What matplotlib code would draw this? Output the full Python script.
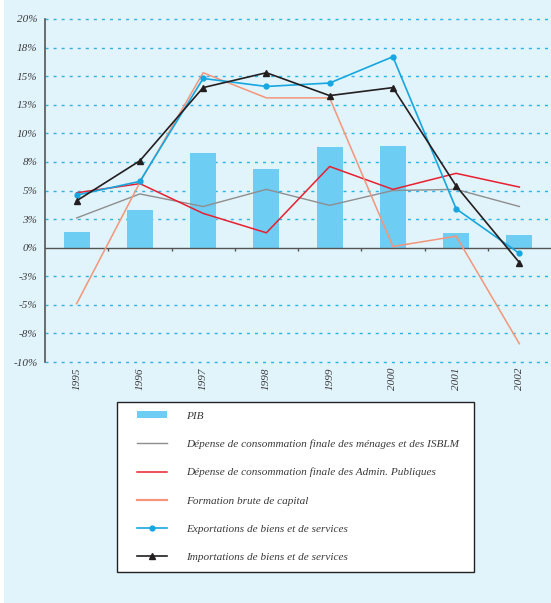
import numpy as np
import matplotlib
matplotlib.use('Agg')
import matplotlib.pyplot as plt
from matplotlib.patches import Rectangle, Patch
from matplotlib.lines import Line2D

matplotlib.rcParams.update({'font.family': 'Liberation Serif', 'font.style': 'italic', 'font.size': 8})

years = ['1995', '1996', '1997', '1998', '1999', '2000', '2001', '2002']
pib = [1.4, 3.3, 8.3, 6.9, 8.8, 8.9, 1.3, 1.1]
menages = [2.6, 4.7, 3.6, 5.1, 3.7, 5.0, 5.1, 3.6]
admin = [4.8, 5.6, 3.0, 1.3, 7.1, 5.1, 6.5, 5.3]
fbcf = [-4.9, 5.7, 15.3, 13.1, 13.1, 0.1, 1.0, -8.4]
exports = [4.6, 5.8, 14.8, 14.1, 14.4, 16.7, 3.4, -0.5]
imports = [4.1, 7.6, 14.0, 15.3, 13.3, 14.0, 5.4, -1.3]
yticks = [20, 17.5, 15, 12.5, 10, 7.5, 5, 2.5, 0, -2.5, -5, -7.5, -10]

labels = ['PIB',
          'Dépense de consommation finale des ménages et des ISBLM',
          'Dépense de consommation finale des Admin. Publiques',
          'Formation brute de capital',
          'Exportations de biens et de services',
          'Importations de biens et de services']

bg = '#E1F3FB'
c_bar = '#6DCDF3'
c_grey = '#8E8E8E'
c_red = '#E8202F'
c_salmon = '#F4967A'
c_blue = '#16A6E0'
c_black = '#231F20'
c_grid = '#2DB3E8'
c_axis = '#555555'
c_text = '#3A3A3A'

fig = plt.figure(figsize=(5.51, 6.03), dpi=100, facecolor=bg)
fig.patches.append(Rectangle((0, 0), 4 / 551, 1, transform=fig.transFigure,
                             facecolor='white', edgecolor='none', zorder=-5))

ax = fig.add_axes([45 / 551, 1 - 362 / 603, 1 - 45 / 551, (362 - 19) / 603])
ax.set_facecolor('none')
x = np.arange(len(years))

# dotted grid
for v in yticks:
    if v != 0:
        ax.axhline(v, color=c_grid, lw=1.0, dashes=(2.2, 3.6), zorder=0, clip_on=False)

ax.bar(x, pib, width=0.41, color=c_bar, zorder=1)

ax.axhline(0, color=c_axis, lw=1.0, zorder=2)
bounds = x[:-1] + 0.5
ax.vlines(bounds, -0.3, 0, color=c_axis, lw=1.0, zorder=2)

ax.plot(x, menages, color=c_grey, lw=1.0, zorder=3)
ax.plot(x, admin, color=c_red, lw=1.1, zorder=3)
ax.plot(x, fbcf, color=c_salmon, lw=1.1, zorder=3)
ax.plot(x, exports, color=c_blue, lw=1.2, marker='o', ms=3.5, zorder=4)
ax.plot(x, imports, color=c_black, lw=1.2, marker='^', ms=5, zorder=5)

ax.set_xlim(-0.5, len(years) - 0.5)
ax.set_ylim(-10, 20)
ax.set_yticks(yticks)
ax.set_yticklabels([f'{int(np.sign(v) * np.floor(abs(v) + 0.5))}%' for v in yticks],
                   color=c_text, fontsize=8)
ax.set_xticks(x)
ax.set_xticklabels(years, rotation=90, color=c_text, fontsize=8)
ax.tick_params(axis='y', length=0, pad=5.5)
ax.tick_params(axis='x', length=0, pad=4)
for s in ['top', 'right', 'bottom']:
    ax.spines[s].set_visible(False)
ax.spines['left'].set_color(c_axis)
ax.spines['left'].set_linewidth(1.2)

# legend box
fig.patches.append(Rectangle((117 / 551, 1 - 572 / 603), 357 / 551, 170 / 603,
                             transform=fig.transFigure, facecolor='white',
                             edgecolor='#222222', lw=1.0, zorder=1))
handles = [Patch(facecolor=c_bar, edgecolor='none'),
           Line2D([], [], color=c_grey, lw=1.0),
           Line2D([], [], color=c_red, lw=1.1),
           Line2D([], [], color=c_salmon, lw=1.6),
           Line2D([], [], color=c_blue, lw=1.2, marker='o', ms=3.5),
           Line2D([], [], color=c_black, lw=1.2, marker='^', ms=5)]
leg = fig.legend(handles, labels, loc='upper left',
                 bbox_to_anchor=(137 / 551, 1 - 411 / 603), frameon=False,
                 fontsize=8.1, handlelength=2.67, handleheight=0.62,
                 handletextpad=1.69, labelspacing=1.66, borderpad=0, borderaxespad=0)
for t in leg.get_texts():
    t.set_color(c_text)
leg.set_zorder(2)

fig.savefig('out.png', dpi=100, facecolor=bg)
